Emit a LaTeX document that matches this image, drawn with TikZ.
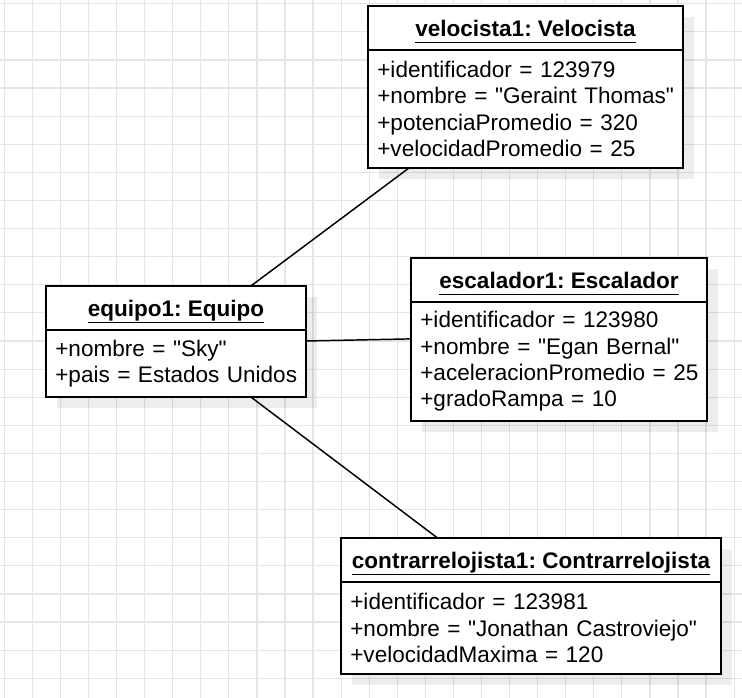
\documentclass[tikz,border=0pt]{standalone}
\usepackage{fontspec}
\setmainfont{Liberation Sans}[Ligatures=TeXOff]
\usetikzlibrary{calc,positioning,shadows}
\frenchspacing

% underlined object name, rule at a fixed depth
\newcommand{\objname}[1]{\setbox0\hbox{#1}\rlap{\vrule height -4.4pt depth 5.5pt width \wd0}\box0}
% one attribute line, never broken
\newcommand{\fila}[1]{\mbox{#1}}

\begin{document}
\begin{tikzpicture}[x=0.75pt,y=-0.75pt,
  gridline/.style={black!10,line width=0.9pt},
  objshadow/.style={drop shadow={shadow xshift=8.25pt,shadow yshift=-8.25pt,fill=black,opacity=0.07}},
  objhead/.style={draw,line width=1.5pt,fill=white,outer sep=0pt,objshadow,
    minimum height=33pt,text height=12.1pt,text depth=0pt,
    font=\fontsize{16.9}{19.7}\selectfont\bfseries},
  objattr/.style={draw,line width=1.5pt,fill=white,outer sep=0pt,objshadow,
    align=left,inner xsep=7pt,font=\fontsize{16.9}{19.7}\selectfont},
  link/.style={line width=1.1pt}]
  \useasboundingbox (0,0) rectangle (742,698);
  % fondo cuadriculado
  \foreach \i in {0,...,26} \draw[gridline] ({4.3+28.07*\i},0) -- ++(0,698);
  \foreach \j in {0,...,24} \draw[gridline] (0,{3.8+28.1*\j}) -- ++(742,0);
  % velocista
  \node[objhead,minimum width=236.25pt,anchor=north west] (vel) at (368,6) {\objname{velocista1: Velocista}};
  \node[objattr,below=0pt of vel,text width=222.25pt,minimum height=88.5pt] (velattr)
    {\fila{+identificador = 123979}\\\fila{+nombre = "Geraint Thomas"}\\\fila{+potenciaPromedio = 320}\\\fila{+velocidadPromedio = 25}};
  % equipo
  \node[objhead,minimum width=195pt,anchor=north west] (equ) at (46,286) {\objname{equipo1: Equipo}};
  \node[objattr,below=0pt of equ,text width=181pt,minimum height=50.25pt] (equattr)
    {\fila{+nombre = "Sky"}\\\fila{+pais = Estados Unidos}};
  % escalador
  \node[objhead,minimum width=222pt,anchor=north west] (esc) at (411,258) {\objname{escalador1: Escalador}};
  \node[objattr,below=0pt of esc,text width=208pt,minimum height=89.25pt] (escattr)
    {\fila{+identificador = 123980}\\\fila{+nombre = "Egan Bernal"}\\\fila{+aceleracionPromedio = 25}\\\fila{+gradoRampa = 10}};
  % contrarrelojista
  \node[objhead,minimum width=285pt,anchor=north west] (con) at (341,538) {\objname{contrarrelojista1: Contrarrelojista}};
  \node[objattr,below=0pt of con,text width=271pt,minimum height=69pt] (conattr)
    {\fila{+identificador = 123981}\\\fila{+nombre = "Jonathan Castroviejo"}\\\fila{+velocidadMaxima = 120}};
  % enlaces
  \draw[link] ($(velattr.south west)!0.13!(velattr.south east)$) -- ($(equ.north west)!0.788!(equ.north east)$);
  \draw[link] ($(equattr.north east)!0.164!(equattr.south east)$) -- ($(escattr.north west)!0.31!(escattr.south west)$);
  \draw[link] ($(equattr.south west)!0.788!(equattr.south east)$) -- ($(con.north west)!0.254!(con.north east)$);
\end{tikzpicture}
\end{document}
